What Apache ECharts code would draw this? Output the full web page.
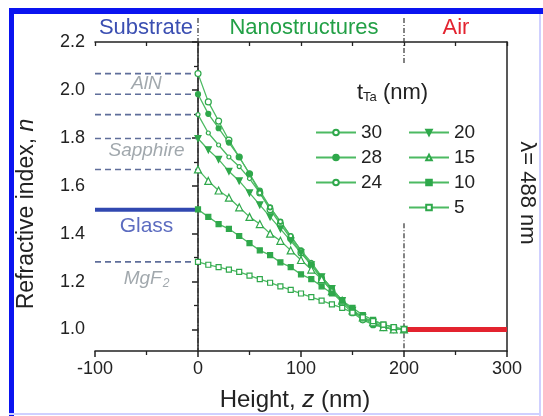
<!DOCTYPE html>
<html>
<head>
<meta charset="utf-8">
<script src="https://cdn.jsdelivr.net/npm/echarts@6/dist/echarts.min.js"></script>
<style>
html,body{margin:0;padding:0;background:#fff}
#chart{width:543px;height:416px}
</style>
</head>
<body>
<div id="chart"></div>
<script>
// height z (nm)
const heights = [0,10,20,30,40,50,60,70,80,90,100,110,120,130,140,150,160,170,180,190,200];
// refractive index for each Ta thickness (nm)
const n30 = [2.068,1.95,1.87,1.79,1.72,1.65,1.57,1.50,1.44,1.38,1.32,1.27,1.21,1.16,1.11,1.07,1.04,1.02,1.01,1.00,1.00];
const n28 = [1.982,1.90,1.84,1.78,1.72,1.65,1.58,1.51,1.45,1.39,1.33,1.27,1.22,1.17,1.12,1.08,1.05,1.02,1.01,1.00,1.00];
const n24 = [1.897,1.82,1.77,1.72,1.68,1.63,1.57,1.51,1.45,1.39,1.33,1.28,1.22,1.17,1.12,1.08,1.05,1.03,1.01,1.00,1.00];
const n20 = [1.797,1.75,1.71,1.66,1.62,1.57,1.52,1.47,1.42,1.37,1.32,1.27,1.22,1.17,1.12,1.08,1.05,1.03,1.01,1.00,1.00];
const n15 = [1.668,1.62,1.58,1.55,1.51,1.47,1.44,1.40,1.37,1.33,1.29,1.25,1.21,1.16,1.12,1.08,1.05,1.03,1.01,1.00,1.00];
const n10 = [1.501,1.47,1.44,1.42,1.39,1.36,1.33,1.31,1.28,1.26,1.23,1.21,1.18,1.15,1.12,1.09,1.06,1.04,1.02,1.01,1.00];
const n5  = [1.282,1.27,1.26,1.25,1.24,1.225,1.21,1.195,1.18,1.165,1.15,1.135,1.12,1.105,1.09,1.07,1.05,1.035,1.02,1.01,1.00];
// substrate reference levels
const dashedLevels = [2.068,1.982,1.897,1.797,1.668,1.282];
const glassLevel = 1.50;
const airLevel = 1.00;
// axis ticks
const yLabelValues = [1.0,1.2,1.4,1.6,1.8,2.0,2.2];
const yMinorValues = [1.1,1.3,1.5,1.7,1.9,2.1];

const green = '#2fa84b';
const lineGreen = '#4cba62';
const font = 'Liberation Sans, Arial, sans-serif';

function pts(arr){ return heights.map((z,i)=>[z,arr[i]]); }

function curve(name, arr, symbol, size, filled, rotate){
  return {
    name: name, type:'line', data: pts(arr),
    symbol: symbol, symbolSize: size, symbolRotate: rotate || 0,
    showAllSymbol: true,
    lineStyle:{color: lineGreen, width:1.3},
    itemStyle:{color: filled ? green : '#fff', borderColor: green, borderWidth:1.2},
    z: 5
  };
}

function hline(x0, x1, v, style){
  return {type:'line', data:[[x0,v],[x1,v]], symbol:'none', silent:true, lineStyle:style, z:3};
}

const chart = echarts.init(document.getElementById('chart'));

const series = [
  curve('30', n30, 'circle', 6, false),
  curve('28', n28, 'circle', 5, true),
  curve('24', n24, 'circle', 4, false),
  curve('20', n20, 'triangle', 6, true, 180),
  curve('15', n15, 'triangle', 7, false),
  curve('10', n10, 'rect', 5, true),
  curve('5',  n5,  'rect', 5, false)
];
dashedLevels.forEach(v=>series.push(hline(-100, 0, v, {color:'#5f6e9a', width:1.6, type:[6,4]})));
series.push(hline(-100, 0, glassLevel, {color:'#3148b0', width:4}));
series.push(hline(200, 300, airLevel, {color:'#e3232f', width:5}));
// vertical region boundaries (dash-dot)
const ddStyle = {color:'#333', width:1.2, type:[5,2,1,2]};
series.push({type:'line', data:[[0,2.30],[0,0.91]], symbol:'none', silent:true, clip:false, lineStyle:ddStyle, z:2});
series.push({type:'line', data:[[200,2.30],[200,2.105]], symbol:'none', silent:true, clip:false, lineStyle:ddStyle, z:2});
series.push({type:'line', data:[[200,1.443],[200,0.91]], symbol:'none', silent:true, clip:false, lineStyle:ddStyle, z:2});
// material labels in substrate region
const grayLbl = {show:true, position:'inside', color:'#8a9299', fontSize:19, fontStyle:'italic', fontFamily:font};
series.push({
  type:'scatter', symbolSize:1, itemStyle:{color:'rgba(0,0,0,0)'}, silent:true, z:6,
  label:{show:true, position:'inside', formatter:p=>p.name},
  data:[
    {name:'AlN', value:[-50,2.025], label:grayLbl},
    {name:'Sapphire', value:[-50,1.748], label:grayLbl},
    {name:'Glass', value:[-50,1.43], label:{show:true, position:'inside', color:'#3347b0', fontSize:21, fontFamily:font}},
    {name:'MgF2', value:[-50,1.21], label:Object.assign({}, grayLbl, {
      formatter:'{a|MgF}{b|2}',
      rich:{a:{fontSize:19, fontStyle:'italic', color:'#8a9299', fontFamily:font},
            b:{fontSize:12, fontStyle:'italic', color:'#8a9299', fontFamily:font, verticalAlign:'bottom', padding:[9,0,0,1]}}
    })}
  ]
});

const legendBase = {
  orient:'vertical', selectedMode:false, padding:0,
  itemWidth:40, itemHeight:7, itemGap:6,
  textStyle:{fontSize:19, color:'#222', fontFamily:font}
};

chart.setOption({
  animation:false,
  backgroundColor:'#fff',
  grid:{left:95, right:36, top:42, bottom:65},
  legend:[
    Object.assign({}, legendBase, {left:315, top:123, data:['30','28','24']}),
    Object.assign({}, legendBase, {left:408, top:123, data:['20','15','10','5']})
  ],
  xAxis:[
    {type:'value', min:-100, max:300, interval:100, position:'bottom',
     axisLine:{lineStyle:{color:'#222', width:1.5}},
     axisTick:{length:6, lineStyle:{color:'#222', width:1.5}},
     minorTick:{show:true, splitNumber:2, length:4, lineStyle:{color:'#222', width:1.3}},
     axisLabel:{fontSize:18, color:'#222', margin:9, fontFamily:font},
     splitLine:{show:false}},
    {type:'value', min:-100, max:300, interval:50, position:'top',
     axisLine:{lineStyle:{color:'#222', width:1.5}},
     axisTick:{inside:true, length:4, lineStyle:{color:'#222', width:1.3}},
     axisLabel:{show:false}, splitLine:{show:false}}
  ],
  yAxis:[
    {type:'value', min:0.91, max:2.2, position:'left',
     axisLine:{show:true, lineStyle:{color:'#222', width:1.5}},
     axisTick:{show:true, length:6, customValues:yLabelValues, lineStyle:{color:'#222', width:1.5}},
     axisLabel:{fontSize:18, color:'#222', margin:10, fontFamily:font, customValues:yLabelValues, formatter:v=>v.toFixed(1)},
     splitLine:{show:false}},
    {type:'value', min:0.91, max:2.2, position:'left',
     axisLine:{show:false},
     axisTick:{show:true, length:4, customValues:yMinorValues, lineStyle:{color:'#222', width:1.3}},
     axisLabel:{show:false}, splitLine:{show:false}},
    {type:'value', min:0.91, max:2.2, position:'right',
     axisLine:{show:true, lineStyle:{color:'#222', width:1.5}},
     axisTick:{show:false}, axisLabel:{show:false}, splitLine:{show:false}}
  ],
  series: series,
  graphic:[
    {type:'rect', shape:{x:9, y:8, width:534, height:6}, style:{fill:'#0a14f0'}, silent:true},
    {type:'rect', shape:{x:9, y:8, width:5, height:408}, style:{fill:'#0a14f0'}, silent:true},
    {type:'rect', shape:{x:539, y:14, width:2, height:402}, style:{fill:'#cfd0ff'}, silent:true},
    {type:'rect', shape:{x:9, y:413, width:532, height:2}, style:{fill:'#cfd0ff'}, silent:true},
    {type:'text', x:146, y:28, style:{text:'Substrate', fill:'#3b4fb2', font:'22px '+font, textAlign:'center', textVerticalAlign:'middle'}},
    {type:'text', x:304, y:28, style:{text:'Nanostructures', fill:'#22a046', font:'22px '+font, textAlign:'center', textVerticalAlign:'middle'}},
    {type:'text', x:456, y:28, style:{text:'Air', fill:'#e3232f', font:'22px '+font, textAlign:'center', textVerticalAlign:'middle'}},
    {type:'text', x:295, y:400, style:{
      text:'{a|Height, }{b|z}{a| (nm)}', textAlign:'center', textVerticalAlign:'middle',
      rich:{a:{fontSize:24, fontFamily:font, fill:'#222'}, b:{fontSize:24, fontFamily:font, fontStyle:'italic', fill:'#222'}}}},
    {type:'text', x:27, y:214, rotation:Math.PI/2, style:{
      text:'{a|Refractive index, }{b|n}', textAlign:'center', textVerticalAlign:'middle',
      rich:{a:{fontSize:23, fontFamily:font, fill:'#222'}, b:{fontSize:23, fontFamily:font, fontStyle:'italic', fill:'#222'}}}},
    {type:'text', x:527, y:193, rotation:-Math.PI/2, style:{text:'\u03bb= 488 nm', fill:'#222', font:'22px '+font, textAlign:'center', textVerticalAlign:'middle'}},
    {type:'text', x:357, y:93, style:{
      text:'{a|t}{s|Ta}{a| (nm)}', textVerticalAlign:'middle',
      rich:{a:{fontSize:22, fontFamily:font, fill:'#222'}, s:{fontSize:13, fontFamily:font, fill:'#222', verticalAlign:'bottom', padding:[7,0,0,0]}}}}
  ]
});
</script>
</body>
</html>
